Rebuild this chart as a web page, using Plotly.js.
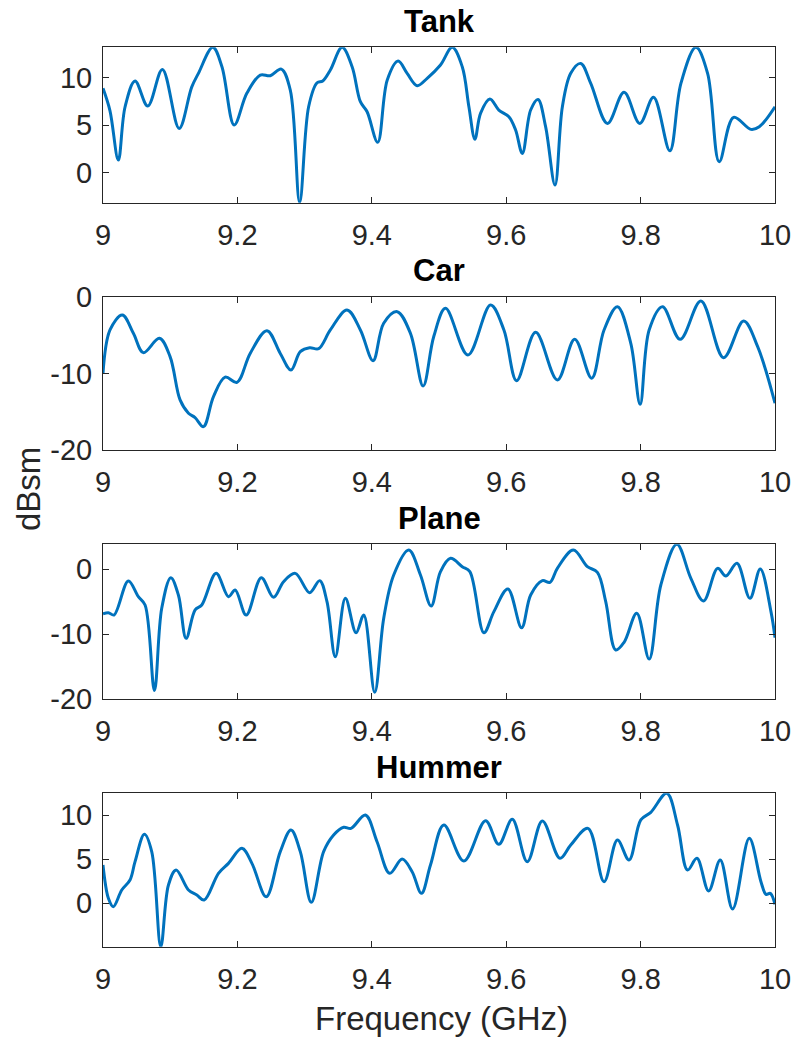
<!DOCTYPE html>
<html>
<head>
<meta charset="utf-8">
<script src="https://cdn.plot.ly/plotly-3.0.1.min.js"></script>
<style>
  html, body { margin: 0; padding: 0; background: #ffffff; }
  #chart { width: 796px; height: 1042px; }
</style>
</head>
<body>
<div id="chart"></div>
<script>
// Radar cross section (dBsm) over 9-10 GHz for four targets

const tankFreq = [9.0, 9.0104, 9.0228, 9.0328, 9.0477, 9.0666, 9.0884, 9.1133, 9.132, 9.142, 9.1634, 9.177, 9.1952, 9.214, 9.234, 9.249, 9.2653, 9.2787, 9.2926, 9.306, 9.3186, 9.327, 9.3383, 9.3558, 9.3707, 9.383, 9.393, 9.4088, 9.423, 9.4392, 9.4526, 9.4675, 9.4824, 9.5022, 9.5197, 9.5346, 9.5445, 9.5534, 9.5618, 9.5757, 9.589, 9.604, 9.614, 9.624, 9.6364, 9.6473, 9.6587, 9.6726, 9.6836, 9.696, 9.7109, 9.7258, 9.7507, 9.7754, 9.7988, 9.8192, 9.8435, 9.86, 9.8823, 9.8997, 9.917, 9.9384, 9.9642, 9.9766, 10.0];
const tankDb = [8.87, 6.5, 1.3, 6.9, 9.64, 7.0, 10.87, 4.64, 9.0, 10.45, 13.2, 11.15, 5.0, 8.34, 10.27, 10.2, 10.9, 8.69, -3.17, 6.93, 9.46, 9.64, 10.8, 13.2, 11.15, 7.46, 6.4, 3.17, 9.75, 11.75, 10.45, 9.15, 9.93, 11.33, 13.2, 11.15, 6.93, 3.5, 6.23, 7.74, 6.58, 5.87, 4.47, 2.0, 6.58, 7.7, 4.8, -1.34, 6.93, 10.45, 11.5, 9.4, 5.17, 8.45, 5.17, 7.92, 2.28, 9.4, 13.2, 10.45, 1.12, 5.8, 4.54, 4.82, 6.93];

const carFreq = [9.0, 9.0104, 9.0288, 9.0452, 9.06, 9.0839, 9.0998, 9.1147, 9.1272, 9.137, 9.1495, 9.1644, 9.1818, 9.1993, 9.219, 9.244, 9.2638, 9.2797, 9.2936, 9.3075, 9.3209, 9.3383, 9.3632, 9.383, 9.4019, 9.4177, 9.4377, 9.4575, 9.4764, 9.4922, 9.5097, 9.543, 9.5767, 9.5966, 9.6155, 9.6438, 9.6761, 9.7019, 9.7272, 9.7456, 9.7655, 9.7854, 9.7993, 9.8127, 9.8326, 9.8589, 9.8897, 9.9235, 9.9533, 9.9742, 10.0];
const carDb = [-10.0, -4.34, -2.39, -4.78, -7.3, -5.43, -7.82, -13.47, -15.2, -15.77, -16.95, -13.04, -10.5, -11.17, -7.4, -4.43, -7.4, -9.56, -7.17, -6.65, -6.78, -4.34, -1.73, -4.34, -8.34, -3.47, -1.95, -4.78, -11.65, -5.2, -1.52, -7.6, -1.08, -4.34, -10.95, -4.65, -10.86, -5.56, -10.64, -4.34, -1.3, -6.08, -14.03, -4.34, -1.3, -5.56, -0.56, -7.95, -3.17, -6.52, -13.9];

const planeFreq = [9.0, 9.008, 9.0164, 9.0377, 9.0526, 9.0626, 9.0765, 9.0874, 9.1009, 9.1122, 9.1237, 9.1371, 9.147, 9.1684, 9.1867, 9.1967, 9.2131, 9.2355, 9.2538, 9.2687, 9.2861, 9.3075, 9.3224, 9.3333, 9.3457, 9.3607, 9.3766, 9.388, 9.4043, 9.4177, 9.4326, 9.455, 9.4724, 9.4883, 9.5022, 9.5171, 9.5346, 9.5459, 9.5668, 9.5817, 9.6025, 9.6229, 9.6364, 9.6538, 9.6651, 9.6761, 9.7, 9.7208, 9.7357, 9.7481, 9.763, 9.7754, 9.7943, 9.8127, 9.8301, 9.854, 9.8748, 9.8937, 9.9146, 9.927, 9.9434, 9.9627, 9.9781, 9.994, 10.0];
const planeDb = [-6.92, -6.72, -7.08, -1.85, -4.26, -5.54, -18.7, -6.05, -1.33, -4.0, -10.67, -6.3, -5.54, -0.67, -4.26, -3.23, -7.08, -1.33, -4.36, -1.95, -0.67, -3.64, -1.79, -5.03, -13.5, -4.51, -9.8, -7.08, -18.97, -7.6, -0.92, 2.92, -0.92, -5.69, -0.41, 1.64, 0.36, -0.41, -9.8, -6.56, -3.08, -9.03, -4.0, -1.79, -2.05, 0.1, 2.92, 0.36, -0.51, -5.03, -12.46, -11.28, -6.82, -13.85, -2.46, 3.8, -1.43, -4.92, 0.1, -1.08, 0.87, -4.51, 0.0, -6.56, -10.56];

const hummerFreq = [9.0, 9.008, 9.0153, 9.0279, 9.0402, 9.0477, 9.0616, 9.0725, 9.086, 9.0974, 9.1088, 9.1272, 9.1396, 9.1505, 9.1718, 9.1867, 9.2067, 9.2216, 9.2429, 9.2638, 9.2797, 9.2936, 9.31, 9.3283, 9.3432, 9.3581, 9.3691, 9.3905, 9.4078, 9.4267, 9.4452, 9.46, 9.4739, 9.4873, 9.5072, 9.537, 9.5693, 9.589, 9.609, 9.6314, 9.6538, 9.68, 9.696, 9.7217, 9.7456, 9.7655, 9.7828, 9.8003, 9.8152, 9.839, 9.855, 9.8699, 9.8838, 9.9012, 9.9185, 9.9369, 9.9617, 9.9791, 9.9866, 9.993, 10.0];
const hummerDb = [4.35, 0.57, -0.38, 1.51, 2.65, 4.73, 7.84, 5.87, -4.93, 2.08, 3.78, 1.51, 0.94, 0.37, 3.41, 4.54, 6.25, 4.54, 0.75, 5.87, 8.33, 5.87, 0.11, 5.87, 7.76, 8.64, 8.52, 10.03, 7.0, 3.41, 5.03, 3.59, 1.13, 4.35, 8.9, 4.81, 9.39, 6.7, 9.54, 4.73, 9.35, 5.11, 6.62, 8.52, 2.46, 7.19, 4.92, 9.47, 10.34, 12.5, 8.9, 3.78, 5.11, 1.4, 4.92, -0.65, 7.38, 2.46, 1.02, 1.13, -0.11];

const panelTitles = ['Tank', 'Car', 'Plane', 'Hummer'];
const xTickVals = [9, 9.2, 9.4, 9.6, 9.8, 10];
const xTickText = ['9', '9.2', '9.4', '9.6', '9.8', '10'];
const yTickSets = [[0, 5, 10], [-20, -10, 0], [-20, -10, 0], [0, 5, 10]];
const yTickTexts = [['0', '5', '10'], ['-20', '-10', '0'], ['-20', '-10', '0'], ['0', '5', '10']];
const yRanges = [[-3.2, 13.2], [-20, 0], [-20, 3.8], [-4.93, 12.5]];
const xLabel = 'Frequency (GHz)';
const yLabel = 'dBsm';

const W = 796, H = 1042;
const FONT = '"Liberation Sans", Arial, Helvetica, sans-serif';
const INK = '#262626';
const LINE = '#0072BD';

// pixel boxes of the four axes (top, bottom)
const boxes = [[47.3, 202.7], [296.7, 450], [544.3, 699], [793.3, 946.7]];
const xLeft = 103, xRight = 775;

const series = [
  [tankFreq, tankDb],
  [carFreq, carDb],
  [planeFreq, planeDb],
  [hummerFreq, hummerDb]
];

const traces = series.map((s, i) => ({
  x: s[0],
  y: s[1],
  type: 'scatter',
  mode: 'lines',
  line: { color: LINE, width: 3, shape: 'spline', smoothing: 1.0 },
  xaxis: i === 0 ? 'x' : 'x' + (i + 1),
  yaxis: i === 0 ? 'y' : 'y' + (i + 1),
  hoverinfo: 'x+y',
  showlegend: false,
  cliponaxis: true
}));

const layout = {
  width: W,
  height: H,
  margin: { l: 0, r: 0, t: 0, b: 0 },
  paper_bgcolor: '#ffffff',
  plot_bgcolor: '#ffffff',
  font: { family: FONT, color: INK },
  showlegend: false,
  annotations: []
};

boxes.forEach((b, i) => {
  const k = i === 0 ? '' : String(i + 1);
  const common = {
    showline: true,
    mirror: 'ticks',
    linecolor: INK,
    linewidth: 1,
    ticks: 'inside',
    ticklen: 6,
    tickwidth: 1,
    tickcolor: INK,
    showgrid: false,
    zeroline: false,
    tickfont: { family: FONT, size: 29, color: INK }
  };
  layout['xaxis' + k] = Object.assign({}, common, {
    domain: [xLeft / W, xRight / W],
    range: [9, 10],
    tickmode: 'array',
    tickvals: xTickVals,
    ticktext: xTickText,
    anchor: 'y' + k,
    ticklabelstandoff: 6
  });
  layout['yaxis' + k] = Object.assign({}, common, {
    domain: [1 - b[1] / H, 1 - b[0] / H],
    range: yRanges[i],
    tickmode: 'array',
    tickvals: yTickSets[i],
    ticktext: yTickTexts[i],
    anchor: 'x' + k,
    ticklabelstandoff: 4
  });
  layout.annotations.push({
    text: '<b>' + panelTitles[i] + '</b>',
    xref: 'paper', yref: 'paper',
    x: (xLeft + xRight) / 2 / W,
    y: 1 - (b[0] - 26.3) / H,
    xanchor: 'center', yanchor: 'middle',
    showarrow: false,
    font: { family: FONT, size: 31, color: '#000000' }
  });
});

layout.annotations.push({
  text: xLabel,
  xref: 'paper', yref: 'paper',
  x: 441 / W, y: 1 - 1018.3 / H,
  xanchor: 'center', yanchor: 'middle',
  showarrow: false,
  font: { family: FONT, size: 33, color: INK }
});
layout.annotations.push({
  text: yLabel,
  xref: 'paper', yref: 'paper',
  x: 28 / W, y: 1 - 489 / H,
  xanchor: 'center', yanchor: 'middle',
  textangle: -90,
  showarrow: false,
  font: { family: FONT, size: 33, color: INK }
});

Plotly.newPlot('chart', traces, layout, { displayModeBar: false, staticPlot: true });
</script>
</body>
</html>
